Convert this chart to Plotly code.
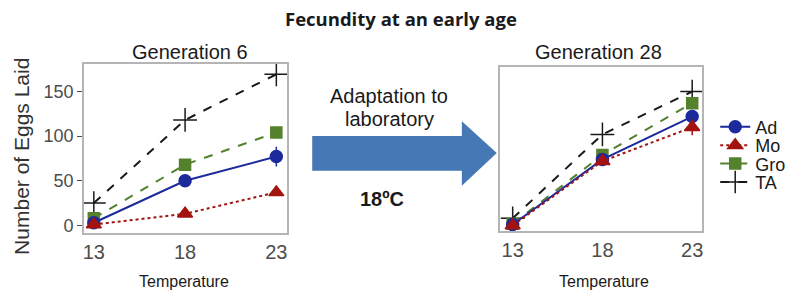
import plotly.graph_objects as go

temps = [13, 18, 23]
series = ["Ad", "Mo", "Gro", "TA"]

gen6_ad = [3, 50, 77]
gen6_mo = [1, 13, 37]
gen6_gro = [8, 68, 104]
gen6_ta = [25, 118, 169]
gen6_ad_err = [0, 0, 11]

gen28_ad = [1, 74, 122]
gen28_mo = [0, 72, 110]
gen28_gro = [2, 79, 137]
gen28_ta = [8, 102, 150]
gen28_mo_err = [0, 0, 9]

colors = {"Ad": "#1c2a9c", "Mo": "#a3130f", "Gro": "#54822c", "TA": "#1a1a1a"}
dashes = {"Ad": "solid", "Mo": "dot", "Gro": "dash", "TA": "dash"}
symbols = {"Ad": "circle", "Mo": "triangle-up", "Gro": "square", "TA": "cross-thin"}
sizes = {"Ad": 12, "Mo": 13, "Gro": 11, "TA": 17}
legend_ids = {"Ad": "legend", "Mo": "legend2", "Gro": "legend3", "TA": "legend4"}
legend_y = {"Ad": 128, "Mo": 146.5, "Gro": 165, "TA": 183.5}

gen6 = {"Ad": gen6_ad, "Mo": gen6_mo, "Gro": gen6_gro, "TA": gen6_ta}
gen28 = {"Ad": gen28_ad, "Mo": gen28_mo, "Gro": gen28_gro, "TA": gen28_ta}
errs6 = {"Ad": gen6_ad_err}
errs28 = {"Mo": gen28_mo_err}

fig = go.Figure()

def add(data, errs, xa, ya, show):
    for s in ["TA", "Gro", "Ad", "Mo"]:
        err = None
        if s in errs:
            err = dict(type="data", array=errs[s], color=colors[s], thickness=1.5, width=0)
        marker = dict(symbol=symbols[s], size=sizes[s], color=colors[s],
                      line=dict(color=colors[s], width=1.5))
        fig.add_trace(go.Scatter(
            x=temps, y=data[s], name=s, mode="lines+markers",
            line=dict(color=colors[s], dash=dashes[s], width=2),
            marker=marker, error_y=err, xaxis=xa, yaxis=ya,
            showlegend=show, legend=legend_ids[s]))

add(gen6, errs6, "x", "y", False)
add(gen28, errs28, "x2", "y2", True)

axis_common = dict(showgrid=False, zeroline=False, showline=True, mirror=True,
                   linecolor="#b5b5b5", linewidth=1.5)
font_xtick = dict(family="Liberation Sans, Arial", size=20, color="#4d4d4d")
font_ytick = dict(family="Liberation Sans, Arial", size=18, color="#4d4d4d")

layout = dict(
    width=801, height=296,
    margin=dict(l=0, r=0, t=0, b=0),
    paper_bgcolor="white", plot_bgcolor="white",
    xaxis=dict(domain=[83/801, 287/801], range=[12.45, 23.6], tickvals=temps,
               ticks="", tickfont=font_xtick, anchor="y", **axis_common),
    yaxis=dict(domain=[1-235/296, 1-64/296], range=[-8.9, 181], tickvals=[0, 50, 100, 150],
               ticks="outside", ticklen=5, tickcolor="#4d4d4d", tickfont=font_ytick,
               anchor="x", **axis_common),
    xaxis2=dict(domain=[500/801, 703/801], range=[12.28, 23.56], tickvals=temps,
                ticks="", tickfont=font_xtick, anchor="y2", **axis_common),
    yaxis2=dict(domain=[1-233/296, 1-67/296], range=[-6.7, 178], showticklabels=False,
                ticks="", anchor="x2", **axis_common),
    showlegend=True,
)
for s in series:
    layout[legend_ids[s]] = dict(
        x=716/801, y=1-legend_y[s]/296, xanchor="left", yanchor="middle",
        font=dict(family="Liberation Sans, Arial", size=18, color="#1a1a1a"),
        bgcolor="rgba(0,0,0,0)", itemwidth=30)
fig.update_layout(**layout)

# arrow (pixel outline converted to paper coordinates)
pts = [(312, 137), (462, 137), (462, 122), (497, 154), (462, 187), (462, 172), (312, 172)]
path = "M " + " L ".join(f"{x/801:.5f},{1-y/296:.5f}" for x, y in pts) + " Z"
fig.add_shape(type="path", path=path, xref="paper", yref="paper",
              fillcolor="#4678b5", line=dict(width=0))

def ann(text, x, y, size, bold=False, family="Liberation Sans, Arial", color="#1a1a1a", angle=0):
    fig.add_annotation(text=f"<b>{text}</b>" if bold else text, x=x/801, y=1-y/296,
                       xref="paper", yref="paper", showarrow=False, textangle=angle,
                       font=dict(family=family, size=size, color=color),
                       xanchor="center", yanchor="middle")

ann("Fecundity at an early age", 401, 19, 18.5, bold=True, family="Open Sans")
ann("Generation 6", 189, 52, 20)
ann("Generation 28", 599, 52, 20)
ann("Number of Eggs Laid", 21, 157, 21, angle=-90, color="#333333")
ann("Temperature", 183, 283, 16)
ann("Temperature", 605, 283, 16)
ann("Adaptation to", 389, 97, 20)
ann("laboratory", 389, 120, 20)
ann("18ºC", 382, 200, 20, bold=True)

fig.write_html("out.html", config={"displayModeBar": False},
               post_script="document.body.style.margin='0';document.body.style.overflow='hidden';")
